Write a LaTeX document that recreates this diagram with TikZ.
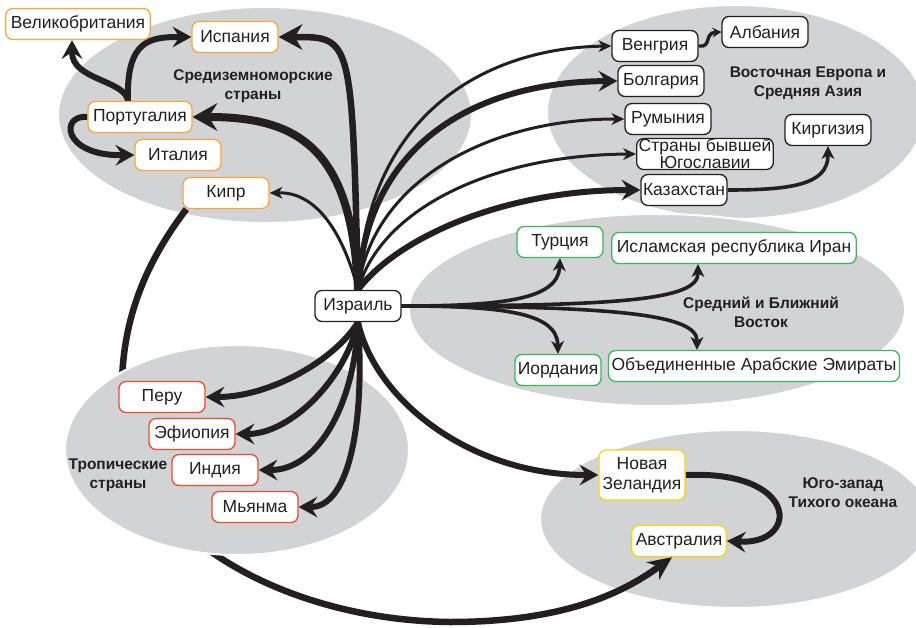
\documentclass[tikz,border=0pt]{standalone}
\usepackage{fontspec}
\setmainfont{Liberation Sans}
\usetikzlibrary{arrows.meta}
\definecolor{zonegray}{HTML}{D1D3D4}
\definecolor{ink}{HTML}{231F20}
\definecolor{medorange}{HTML}{F7A444}
\definecolor{mideastgreen}{HTML}{3FB55A}
\definecolor{tropred}{HTML}{EC4B34}
\definecolor{pacyellow}{HTML}{F6D60F}
\pgfdeclarelayer{back}
\pgfdeclarelayer{links}
\pgfsetlayers{back,links,main}
\tikzstyle{country} = [draw, fill=white, rounded corners=7pt, line width=1.3pt, minimum width=86pt, minimum height=31pt, inner xsep=5pt, inner ysep=2pt, font=\fontsize{17.5}{20}\selectfont, text=ink, align=center]
\tikzstyle{med} = [country, draw=medorange]
\tikzstyle{europe} = [country, draw=ink, inner xsep=2pt]
\tikzstyle{mideast} = [country, draw=mideastgreen]
\tikzstyle{tropic} = [country, draw=tropred]
\tikzstyle{pacific} = [country, draw=pacyellow]
\tikzstyle{hub} = [country, draw=ink]
\tikzstyle{region} = [align=center, text=ink, font=\fontsize{15.5}{19}\selectfont\bfseries]
\tikzstyle{zone} = [fill=zonegray, draw=white, line width=2pt]
\tikzstyle{link} = [draw=ink, line cap=butt]
\tikzstyle{tinylink} = [link, line width=3.4pt, -{Stealth[length=9pt,width=10pt,inset=3pt,line width=0pt]}]
\tikzstyle{thinlink} = [link, line width=3pt, -{Stealth[length=13pt,width=12pt,inset=4pt,line width=0pt]}]
\tikzstyle{midlink} = [link, line width=3.6pt, -{Stealth[length=13pt,width=13pt,inset=4pt,line width=0pt]}]
\tikzstyle{fatlink} = [link, line width=6pt, -{Stealth[length=19pt,width=21pt,inset=7pt,line width=0pt]}]
\tikzstyle{hugelink} = [link, line width=8pt, -{Stealth[length=25pt,width=28pt,inset=9pt,line width=0pt]}]

\begin{document}
\begin{tikzpicture}[x=1pt, y=-1pt]
	\useasboundingbox (0,0) rectangle (916,627);
	\node[med] (gb) at (78,24) {Великобритания};
	\node[med] (esp) at (235,37) {Испания};
	\node[med] (por) at (140,117) {Португалия};
	\node[med] (ita) at (178,155) {Италия};
	\node[med] (cyp) at (226,193) {Кипр};
	\node[europe] (hun) at (655,46) {Венгрия};
	\node[europe] (alb) at (765,32) {Албания};
	\node[europe] (bul) at (661,81) {Болгария};
	\node[europe] (rom) at (668,119) {Румыния};
	\node[europe, inner ysep=0pt, font=\fontsize{17.5}{14}\selectfont] (yug) at (705,154) {Страны бывшей\\Югославии};
	\node[europe] (kaz) at (684,190) {Казахстан};
	\node[europe] (kyr) at (828,130) {Киргизия};
	\node[mideast] (tur) at (560,242) {Турция};
	\node[mideast] (iran) at (734,248) {Исламская республика Иран};
	\node[mideast, inner xsep=2pt] (jor) at (558,370) {Иордания};
	\node[mideast, inner xsep=3pt] (uae) at (754,366) {Объединенные Арабские Эмираты};
	\node[tropic] (peru) at (162,397) {Перу};
	\node[tropic] (eth) at (192,434) {Эфиопия};
	\node[tropic] (ind) at (215,470) {Индия};
	\node[tropic] (mya) at (255,507) {Мьянма};
	\node[pacific, minimum height=50pt, inner xsep=3pt] (nz) at (642,475) {Новая\\Зеландия};
	\node[pacific, inner xsep=4pt] (aus) at (679,541) {Австралия};
	\node[hub] (isr) at (358,306) {Израиль};
	\node[region] (medlbl) at (253,86) {Средиземноморские\\страны};
	\node[region] (eurlbl) at (808,83) {Восточная Европа и\\Средняя Азия};
	\node[region] (midlbl) at (761,312) {Средний и Ближний\\Восток};
	\node[region] (troplbl) at (118,475) {Тропические\\страны};
	\node[region] (paclbl) at (843,493) {Юго-запад\\Тихого океана};
	\begin{pgfonlayer}{back}
		\path[zone] (265,115) ellipse [x radius=207, y radius=108];
		\path[zone] (736,112) ellipse [x radius=189, y radius=107];
		\path[zone] (657,310) ellipse [x radius=248, y radius=96];
		\path[zone] (735,519) ellipse [x radius=195, y radius=89];
		\draw[fatlink, line width=6.5pt, -{Stealth[length=24pt,width=22pt,inset=8pt,line width=0pt]}] ([xshift=4pt]cyp.south west) .. controls (140,270) and (120,330) .. (122,400) .. controls (116,520) and (270,620) .. (450,622) .. controls (560,622) and (620,595) .. ([xshift=-7pt]aus.south);
		\path[zone] (237,450) ellipse [x radius=172, y radius=105];
	\end{pgfonlayer}
	\begin{pgfonlayer}{links}
		\draw[fatlink, line width=6.5pt, -{Stealth[length=24pt,width=26pt,inset=8pt,line width=0pt]}] (isr.north) .. controls (352,37) .. (esp.east);
		\draw[hugelink] (isr.north) .. controls (352,150) and (300,117) .. (por.east);
		\draw[thinlink] (isr.north) .. controls (345,240) and (320,192) .. (cyp.east);
		\draw[thinlink] (isr.north) .. controls (366,110) and (490,48) .. (hun.west);
		\draw[fatlink] (isr.north) .. controls (366,140) and (480,82) .. (bul.west);
		\draw[thinlink] (isr.north) .. controls (372,180) and (490,119) .. (rom.west);
		\draw[thinlink] (isr.north) .. controls (380,210) and (490,155) .. (yug.west);
		\draw[fatlink] (isr.north) .. controls (395,240) and (500,190) .. (kaz.west);
		\draw[midlink] (isr.east) .. controls (500,306) and (558,300) .. (tur.south);
		\draw[midlink] (isr.east) .. controls (620,306) and (698,300) .. ([xshift=-36pt]iran.south);
		\draw[midlink] (isr.east) .. controls (500,306) and (557,312) .. (jor.north);
		\draw[midlink] (isr.east) .. controls (620,306) and (697,315) .. ([xshift=-57pt]uae.north);
		\draw[fatlink] (isr.south) .. controls (335,360) and (270,397) .. (peru.east);
		\draw[fatlink] (isr.south) .. controls (345,380) and (290,434) .. (eth.east);
		\draw[fatlink] (isr.south) .. controls (355,400) and (320,470) .. (ind.east);
		\draw[fatlink] (isr.south) .. controls (365,420) and (350,507) .. (mya.east);
		\draw[fatlink] (isr.south) .. controls (375,400) and (470,475) .. (nz.west);
		\draw[fatlink] ([xshift=-12pt]por.north) .. controls (125,80) and (72,80) .. ([xshift=-6pt]gb.south);
		\draw[fatlink] ([xshift=-12pt]por.north) .. controls (126,40) and (150,37) .. (esp.west);
		\draw[fatlink] (por.west) .. controls (60,114) and (62,156) .. (ita.west);
		\draw[tinylink] (hun.east) .. controls (712,48) and (704,33) .. (alb.west);
		\draw[midlink] (kaz.east) .. controls (790,190) and (828,185) .. (kyr.south);
		\draw[fatlink] (nz.east) .. controls (800,470) and (800,545) .. (aus.east);
	\end{pgfonlayer}
\end{tikzpicture}
\end{document}
